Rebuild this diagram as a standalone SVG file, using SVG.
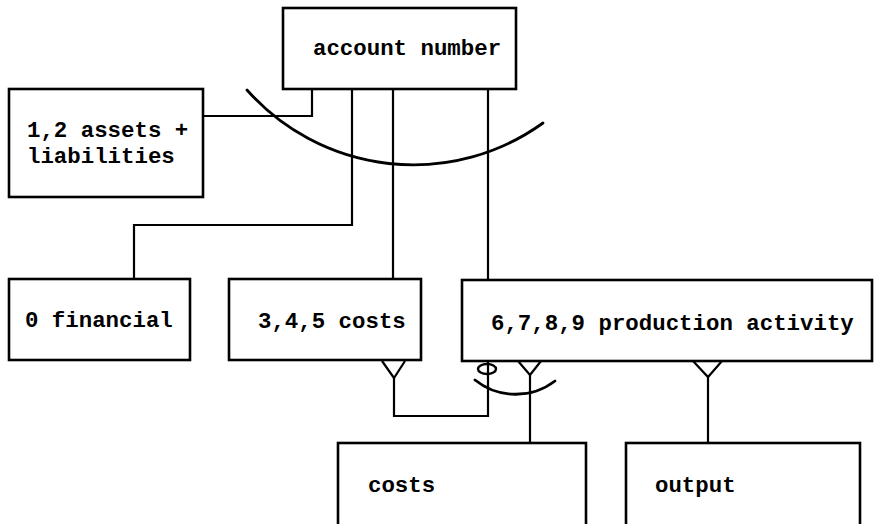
<svg xmlns="http://www.w3.org/2000/svg" width="874" height="524" viewBox="0 0 874 524">
  <style>
    .box { fill: #fff; stroke: #000; stroke-width: 2.6; }
    .ln { fill: none; stroke: #000; stroke-width: 2.2; stroke-linejoin: miter; }
    .arc { fill: none; stroke: #000; stroke-width: 2.8; stroke-linecap: round; }
    .lbl { font-family: "Liberation Mono", "Courier New", monospace; font-weight: bold; font-size: 22.4px; fill: #000; }
  </style>
  <rect width="874" height="524" fill="#fff"/>

  <!-- connectors -->
  <g id="connectors">
    <polyline class="ln" points="312,89 312,116 203,116"/>
    <polyline class="ln" points="352,89 352,225 134,225 134,279"/>
    <line class="ln" x1="393" y1="89" x2="393" y2="279"/>
    <line class="ln" x1="488" y1="89" x2="488" y2="280"/>
    <!-- exclusivity arc across the account-number links -->
    <path class="arc" d="M 247 90 A 222 222 0 0 0 543 123"/>

    <!-- 3,4,5 costs (many) to production activity (optional) -->
    <polyline class="ln" points="382,361 394,378 405,361"/>
    <polyline class="ln" points="394,378 394,416 488,416 488,361"/>
    <ellipse cx="487" cy="369" rx="9" ry="5" fill="none" stroke="#000" stroke-width="2.4"/>

    <!-- production activity (many) to costs -->
    <polyline class="ln" points="518,361 530,375 541,361"/>
    <line class="ln" x1="530" y1="375" x2="530" y2="443"/>
    <path class="arc" d="M 475 380 A 65 65 0 0 0 555 381"/>

    <!-- production activity (many) to output -->
    <polyline class="ln" points="693,361 708,377 722,361"/>
    <line class="ln" x1="708" y1="377" x2="708" y2="443"/>
  </g>

  <g id="account-number">
    <rect class="box" x="283" y="8" width="233" height="81"/>
    <text class="lbl" x="313" y="55">account number</text>
  </g>

  <g id="assets-liabilities">
    <rect class="box" x="9" y="89" width="194" height="108"/>
    <text class="lbl" x="27" y="137">1,2 assets +</text>
    <text class="lbl" x="27" y="163">liabilities</text>
  </g>

  <g id="financial">
    <rect class="box" x="9" y="279" width="181" height="81"/>
    <text class="lbl" x="25" y="327">0 financial</text>
  </g>

  <g id="costs-345">
    <rect class="box" x="229" y="279" width="192" height="81"/>
    <text class="lbl" x="258" y="328">3,4,5 costs</text>
  </g>

  <g id="production-activity">
    <rect class="box" x="462" y="280" width="410" height="81"/>
    <text class="lbl" x="491" y="330">6,7,8,9 production activity</text>
  </g>

  <g id="costs">
    <rect class="box" x="338" y="443" width="248" height="100"/>
    <text class="lbl" x="368" y="492">costs</text>
  </g>

  <g id="output">
    <rect class="box" x="626" y="443" width="234" height="100"/>
    <text class="lbl" x="655" y="492">output</text>
  </g>
</svg>
